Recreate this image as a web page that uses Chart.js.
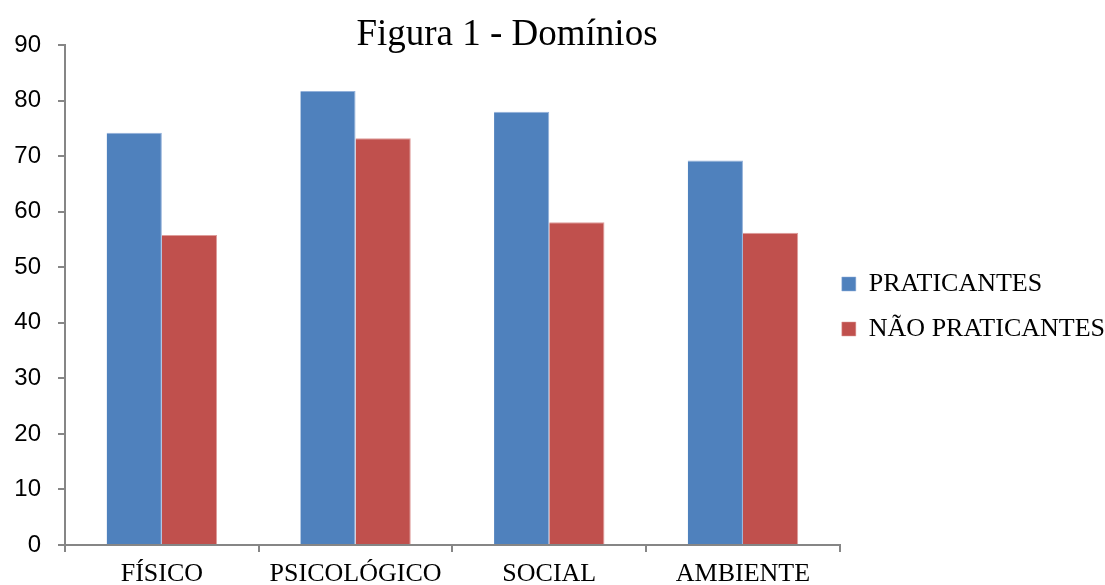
<!DOCTYPE html>
<html>
<head>
<meta charset="utf-8">
<script src="https://cdn.jsdelivr.net/npm/chart.js@4/dist/chart.umd.min.js"></script>
<style>
  html, body { margin: 0; padding: 0; background: #fff; }
  #wrap { position: relative; width: 1105px; height: 585px; }
  #title {
    position: absolute; left: 0; top: 14px; width: 1014px;
    text-align: center; font: 37px/37px "Liberation Serif", serif; color: #000;
  }
</style>
</head>
<body>
<div id="wrap">
  <canvas id="chart" width="1105" height="585"></canvas>
  <div id="title">Figura 1 - Domínios</div>
</div>
<script>
// Figura 1 - Domínios (praticantes x não praticantes)
const categories = ["FÍSICO", "PSICOLÓGICO", "SOCIAL", "AMBIENTE"];
const praticantes = [74.2, 81.7, 78.0, 69.2];
const naoPraticantes = [55.8, 73.2, 58.1, 56.2];
const yTicks = [0, 10, 20, 30, 40, 50, 60, 70, 80, 90];

const axisColor = "#868686";

new Chart(document.getElementById("chart"), {
  type: "bar",
  data: {
    labels: categories,
    datasets: [
      {
        label: "PRATICANTES",
        data: praticantes,
        backgroundColor: "#4F81BD",
        borderColor: "#93B1DA",
        borderWidth: { top: 1, right: 1, left: 0, bottom: 0 },
        categoryPercentage: 0.57,
        barPercentage: 1.0
      },
      {
        label: "NÃO PRATICANTES",
        data: naoPraticantes,
        backgroundColor: "#C0504D",
        borderColor: "#DE9C9A",
        borderWidth: { top: 1, right: 1, left: 0, bottom: 0 },
        categoryPercentage: 0.57,
        barPercentage: 1.0
      }
    ]
  },
  options: {
    responsive: false,
    animation: false,
    layout: {
      // legend keeps 10px of empty room on its right; let it run into the margin
      padding: { top: 45, left: 0, right: -10, bottom: 0 }
    },
    scales: {
      x: {
        afterFit: function(scale) { scale.height = 40; },
        grid: {
          drawOnChartArea: false,
          offset: true,
          tickLength: 7,
          color: axisColor,
          lineWidth: 2
        },
        border: { color: axisColor, width: 2 },
        ticks: {
          color: "#000",
          padding: 9,
          font: { family: "'Liberation Serif', serif", size: 26, lineHeight: 1 }
        }
      },
      y: {
        min: 0,
        max: 90,
        afterFit: function(scale) { scale.width = 65; },
        afterBuildTicks: function(scale) {
          scale.ticks = yTicks.map(v => ({ value: v }));
        },
        grid: {
          drawOnChartArea: false,
          tickLength: 7,
          color: axisColor,
          lineWidth: 2
        },
        border: { color: axisColor, width: 2 },
        ticks: {
          color: "#000",
          padding: 17,
          font: { family: "'Liberation Sans', sans-serif", size: 24 }
        }
      }
    },
    plugins: {
      legend: {
        display: true,
        position: "right",
        align: "center",
        labels: {
          color: "#000",
          boxWidth: 14,
          boxHeight: 14,
          padding: 2,
          font: { family: "'Liberation Serif', serif", size: 26, lineHeight: 1.654 },
          // one-line arrays so each row takes the font line height (row gap as in the figure)
          generateLabels: function(chart) {
            const items = Chart.defaults.plugins.legend.labels.generateLabels(chart);
            items.forEach(function(item) { item.text = [item.text]; });
            return items;
          }
        }
      },
      title: { display: false },
      tooltip: { enabled: false }
    }
  }
});
</script>
</body>
</html>
